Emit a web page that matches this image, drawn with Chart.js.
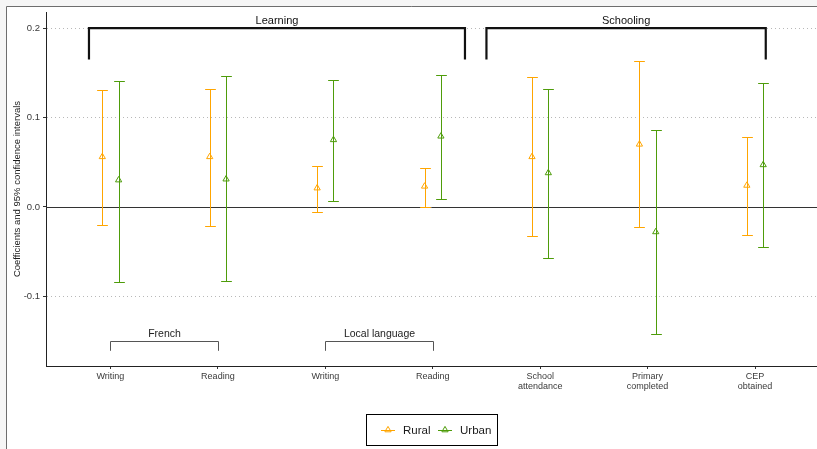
<!DOCTYPE html>
<html>
<head>
<meta charset="utf-8">
<script src="https://cdn.jsdelivr.net/npm/chart.js@4.4.1/dist/chart.umd.min.js"></script>
<style>
  html, body { margin: 0; padding: 0; background: #ffffff; }
  #wrap { position: relative; width: 817px; height: 449px; }
</style>
</head>
<body>
<div id="wrap"><canvas id="chart" width="817" height="449"></canvas></div>
<script>
// Outcome categories (x axis) and the two estimates with their 95% intervals
const categories = [
  ['Writing'], ['Reading'], ['Writing'], ['Reading'],
  ['School', 'attendance'], ['Primary', 'completed'], ['CEP', 'obtained']
];
const ruralEstimate = [0.056, 0.056, 0.021, 0.023, 0.056, 0.070, 0.024];
const ruralLower    = [-0.020, -0.021, -0.006, 0.000, -0.033, -0.023, -0.031];
const ruralUpper    = [0.131, 0.132, 0.046, 0.044, 0.145, 0.163, 0.078];
const urbanEstimate = [0.030, 0.031, 0.075, 0.079, 0.038, -0.028, 0.047];
const urbanLower    = [-0.084, -0.083, 0.007, 0.009, -0.057, -0.142, -0.045];
const urbanUpper    = [0.141, 0.146, 0.142, 0.148, 0.132, 0.086, 0.139];
const yTickValues = [-0.1, 0.0, 0.1, 0.2];
const yTickLabels = ['-0.1', '0.0', '0.1', '0.2'];
const seriesNames = ['Rural', 'Urban'];
// Outcome families (first and last category index, 1-based)
const topGroups = ['Learning', 'Schooling'];
const topGroupMembers = [[1, 4], [5, 7]];
const subGroups = ['French', 'Local language'];
const subGroupMembers = [[1, 2], [3, 4]];

const COLORS = ['#FFA500', '#4E9C0A'];
const FONT = '"Liberation Sans", Arial, Helvetica, sans-serif';
const DODGE = 0.076;

function points(est, shift) {
  return est.map((v, i) => ({ x: i + 1 + shift, y: v }));
}

// Dotted horizontal guides, zero line and interval bars under the markers
const errorBars = {
  id: 'errorBars',
  beforeDatasetsDraw(chart) {
    const { ctx, chartArea: a, scales: { x, y } } = chart;
    ctx.save();

    // dotted guides at the non-zero ticks
    ctx.strokeStyle = '#b8b8b8';
    ctx.lineWidth = 1;
    ctx.setLineDash([1, 3]);
    yTickValues.forEach(v => {
      if (Math.abs(v) < 1e-9) return;
      const yy = Math.round(y.getPixelForValue(v)) + 0.5;
      ctx.beginPath();
      ctx.moveTo(a.left + 1, yy); ctx.lineTo(a.right, yy);
      ctx.stroke();
    });
    ctx.setLineDash([]);

    // zero line
    const y0 = Math.round(y.getPixelForValue(0)) + 0.5;
    ctx.strokeStyle = '#333333';
    ctx.beginPath();
    ctx.moveTo(a.left, y0); ctx.lineTo(a.right, y0);
    ctx.stroke();

    const sets = [[ruralLower, ruralUpper, -DODGE], [urbanLower, urbanUpper, DODGE]];
    const half = x.getPixelForValue(0.05) - x.getPixelForValue(0);
    sets.forEach((s, k) => {
      ctx.strokeStyle = COLORS[k];
      s[0].forEach((lo, i) => {
        const cx = Math.round(x.getPixelForValue(i + 1 + s[2])) + 0.5;
        const yl = Math.round(y.getPixelForValue(lo)) + 0.5;
        const yh = Math.round(y.getPixelForValue(s[1][i])) + 0.5;
        ctx.beginPath();
        ctx.moveTo(cx, yl); ctx.lineTo(cx, yh);
        ctx.moveTo(cx - half, yl); ctx.lineTo(cx + half, yl);
        ctx.moveTo(cx - half, yh); ctx.lineTo(cx + half, yh);
        ctx.stroke();
      });
    });
    ctx.restore();
  }
};

// Group brackets, legend and outer frame
const annotations = {
  id: 'annotations',
  afterDraw(chart) {
    const { ctx, scales: { x, y } } = chart;
    ctx.save();

    // top brackets
    const topExt = [[-0.2, 0.3], [-0.5, 0.1]];
    ctx.strokeStyle = '#111111';
    ctx.lineWidth = 2.2;
    ctx.lineJoin = 'miter';
    topGroups.forEach((name, k) => {
      const x1 = x.getPixelForValue(topGroupMembers[k][0] + topExt[k][0]);
      const x2 = x.getPixelForValue(topGroupMembers[k][1] + topExt[k][1]);
      const yt = y.getPixelForValue(0.2);
      const yb = y.getPixelForValue(0.165);
      ctx.beginPath();
      ctx.moveTo(x1, yb); ctx.lineTo(x1, yt); ctx.lineTo(x2, yt); ctx.lineTo(x2, yb);
      ctx.stroke();
      ctx.fillStyle = '#111111';
      ctx.font = '11px ' + FONT;
      ctx.textAlign = 'center';
      ctx.textBaseline = 'middle';
      ctx.fillText(name, (x1 + x2) / 2, yt - 7.5);
    });

    // language brackets
    ctx.strokeStyle = '#555555';
    ctx.lineWidth = 1;
    subGroups.forEach((name, k) => {
      const x1 = Math.round(x.getPixelForValue(subGroupMembers[k][0])) + 0.5;
      const x2 = Math.round(x.getPixelForValue(subGroupMembers[k][1])) + 0.5;
      const yt = Math.round(y.getPixelForValue(-0.150)) + 0.5;
      const yb = y.getPixelForValue(-0.161);
      ctx.beginPath();
      ctx.moveTo(x1, yb); ctx.lineTo(x1, yt); ctx.lineTo(x2, yt); ctx.lineTo(x2, yb);
      ctx.stroke();
      ctx.fillStyle = '#222222';
      ctx.font = '10.5px ' + FONT;
      ctx.textAlign = 'center';
      ctx.textBaseline = 'middle';
      ctx.fillText(name, (x1 + x2) / 2, yt - 7.5);
    });

    // legend box
    const lx = 366.5, ly = 414.5, lw = 131, lh = 31;
    ctx.strokeStyle = '#000000';
    ctx.lineWidth = 1;
    ctx.strokeRect(lx, ly, lw, lh);
    const keyX = [381, 438];
    const cy = 430.5;
    ctx.font = '11.5px ' + FONT;
    ctx.textAlign = 'left';
    ctx.textBaseline = 'middle';
    seriesNames.forEach((name, k) => {
      ctx.strokeStyle = COLORS[k];
      ctx.beginPath();
      ctx.moveTo(keyX[k], cy); ctx.lineTo(keyX[k] + 14, cy);
      ctx.stroke();
      const r = 3.6, tx = keyX[k] + 7, ty = cy - 0.5;
      ctx.beginPath();
      ctx.moveTo(tx, ty - r);
      ctx.lineTo(tx + r * 0.866, ty + r * 0.5);
      ctx.lineTo(tx - r * 0.866, ty + r * 0.5);
      ctx.closePath();
      ctx.stroke();
      ctx.fillStyle = '#1a1a1a';
      ctx.fillText(name, keyX[k] + 22, cy);
    });

    // outer frame (top and left edges)
    ctx.fillStyle = '#f6f6f6';
    ctx.fillRect(0, 0, 817, 6);
    ctx.fillRect(0, 0, 6, 449);
    ctx.strokeStyle = '#6e6e6e';
    ctx.beginPath();
    ctx.moveTo(6.5, 449); ctx.lineTo(6.5, 6.5); ctx.lineTo(817, 6.5);
    ctx.stroke();
    ctx.restore();
  }
};

new Chart(document.getElementById('chart'), {
  type: 'scatter',
  data: {
    datasets: [
      {
        label: seriesNames[0],
        data: points(ruralEstimate, -DODGE),
        pointStyle: 'triangle',
        pointRadius: 3.6,
        pointHoverRadius: 3.6,
        borderWidth: 1,
        borderColor: COLORS[0],
        backgroundColor: 'rgba(0,0,0,0)'
      },
      {
        label: seriesNames[1],
        data: points(urbanEstimate, DODGE),
        pointStyle: 'triangle',
        pointRadius: 3.6,
        pointHoverRadius: 3.6,
        borderWidth: 1,
        borderColor: COLORS[1],
        backgroundColor: 'rgba(0,0,0,0)'
      }
    ]
  },
  options: {
    responsive: false,
    animation: false,
    events: [],
    layout: { autoPadding: false, padding: { top: 12, right: 0, left: 0, bottom: 0 } },
    plugins: { legend: { display: false }, tooltip: { enabled: false } },
    scales: {
      x: {
        type: 'linear',
        min: 0.4,
        max: 7.577,
        afterBuildTicks(scale) {
          scale.ticks = categories.map((c, i) => ({ value: i + 1 }));
        },
        afterFit(scale) {
          scale.height = 83;
          scale.paddingLeft = 0;
          scale.paddingRight = 0;
        },
        ticks: {
          autoSkip: false,
          maxRotation: 0,
          padding: 2,
          color: '#3a3a3a',
          font: { family: FONT, size: 9, lineHeight: 1.12 },
          callback(value) { return categories[Math.round(value) - 1] || ''; }
        },
        grid: {
          drawOnChartArea: false,
          drawTicks: true,
          tickLength: 3,
          color: '#333333',
          tickColor: '#333333'
        },
        border: { display: true, color: '#222222', width: 1 }
      },
      y: {
        type: 'linear',
        min: -0.178,
        max: 0.218,
        afterBuildTicks(scale) {
          scale.ticks = yTickValues.map(v => ({ value: v }));
        },
        afterFit(scale) {
          scale.width = 46;
          scale.paddingTop = 0;
          scale.paddingBottom = 0;
        },
        ticks: {
          padding: 3,
          color: '#3a3a3a',
          font: { family: FONT, size: 9.5 },
          callback(value) {
            const i = yTickValues.findIndex(v => Math.abs(v - value) < 1e-9);
            return i >= 0 ? yTickLabels[i] : '';
          }
        },
        grid: {
          drawOnChartArea: false,
          drawTicks: true,
          tickLength: 3,
          color: '#333333',
          tickColor: '#333333',
          lineWidth: 1
        },
        border: { display: true, color: '#222222', width: 1 },
        title: {
          display: true,
          text: 'Coefficients and 95% confidence intervals',
          color: '#1a1a1a',
          font: { family: FONT, size: 9.5 },
          padding: { top: 12, bottom: 0 }
        }
      }
    }
  },
  plugins: [errorBars, annotations]
});
</script>
</body>
</html>
